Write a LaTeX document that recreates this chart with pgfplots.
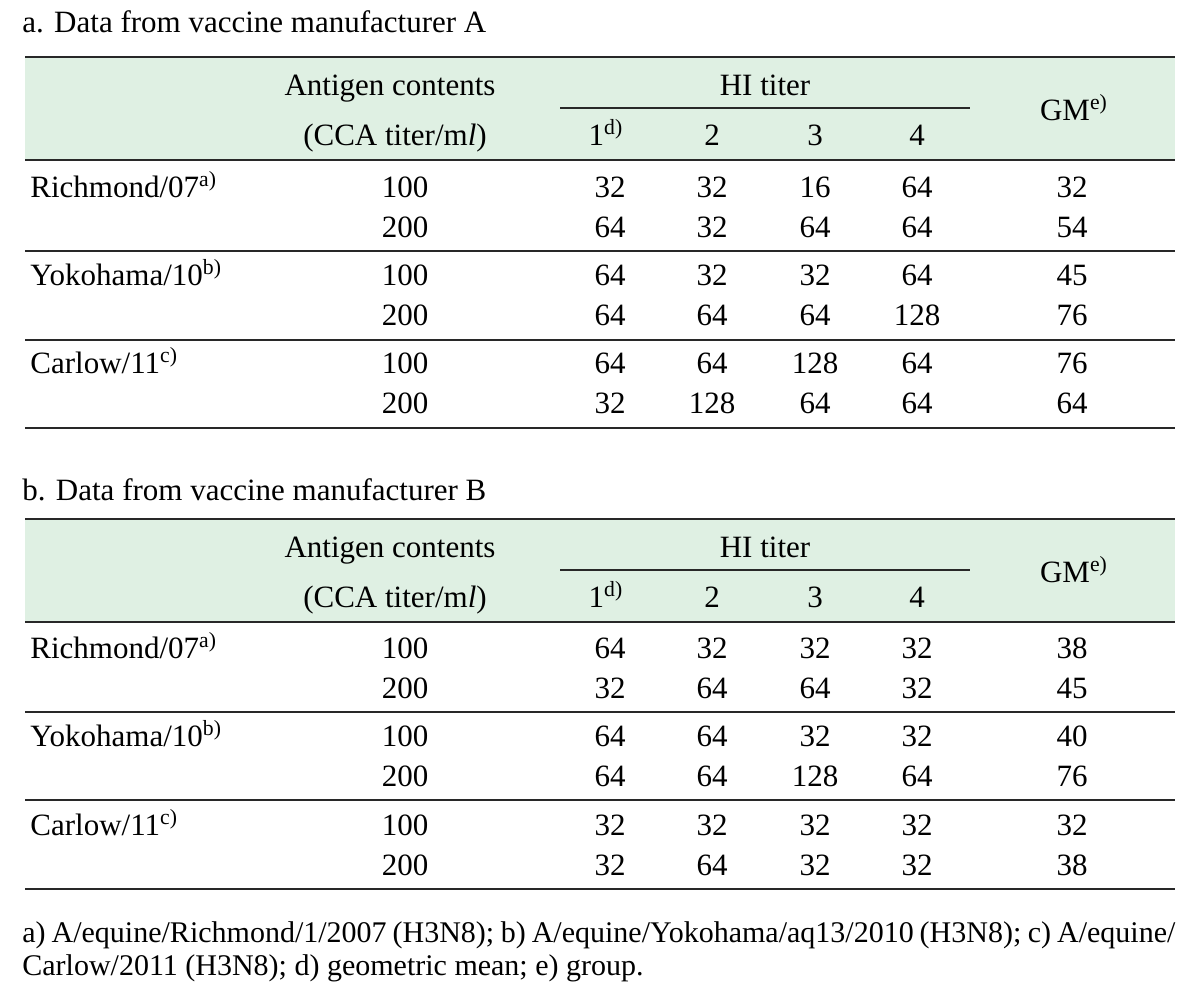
\documentclass[border=0pt]{standalone}
\usepackage{fontspec}
\setmainfont{Liberation Serif}
\usepackage{pgfplots}
\pgfplotsset{compat=1.18}
\usepackage{pgfplotstable}
\definecolor{hdr}{RGB}{223,240,227}
\definecolor{rulec}{RGB}{40,40,40}
\newcommand\fs{\fontsize{15.5}{18}\selectfont}

% baselines (px from top) and values
\pgfplotstableread{
y ant h1 h2 h3 h4 gm
197 100 32 32 16 64 32
237 200 64 32 64 64 54
285 100 64 32 32 64 45
325 200 64 64 64 128 76
373 100 64 64 128 64 76
413 200 32 128 64 64 64
}\tabA
\pgfplotstableread{
y ant h1 h2 h3 h4 gm
658 100 64 32 32 32 38
698 200 32 64 64 32 45
746 100 64 64 32 32 40
786 200 64 64 128 64 76
835 100 32 32 32 32 32
875 200 32 64 32 32 38
}\tabB

\newcommand\col[3]{\addplot[draw=none, mark=none, nodes near coords, point meta=explicit symbolic,
  nodes near coords style={anchor=base, font=\fs, inner sep=0pt, text=black}]
  table[x expr=#2, y=y, meta=#3] {#1};}

\begin{document}
\begin{tikzpicture}
\begin{axis}[
  scale only axis, width=600pt, height=496.5pt,
  xmin=0, xmax=1200, ymin=0, ymax=993, y dir=reverse,
  hide axis, clip=false,
]
\path (rel axis cs:0,0) (rel axis cs:1,1);

% ---------- Table A ----------
\addplot[fill=hdr, draw=none] coordinates {(25,58) (1175,58) (1175,160) (25,160)} -- cycle;
\addplot[rulec, line width=1.1pt] coordinates {(25,57) (1175,57)};
\addplot[rulec, line width=0.9pt] coordinates {(560,108) (970,108)};
\addplot[rulec, line width=1pt] coordinates {(25,160) (1175,160)};
\addplot[rulec, line width=0.8pt] coordinates {(25,251) (1175,251)};
\addplot[rulec, line width=0.8pt] coordinates {(25,340) (1175,340)};
\addplot[rulec, line width=1.1pt] coordinates {(25,428) (1175,428)};

\node[anchor=base west, inner sep=0pt, font=\fs] at (axis cs:22,32) {a. Data from vaccine manufacturer A};
\node[anchor=base, inner sep=0pt, font=\fs] at (axis cs:390,95) {Antigen contents};
\node[anchor=base, inner sep=0pt, font=\fs] at (axis cs:395,145) {(CCA titer/m\textit{l})};
\node[anchor=base, inner sep=0pt, font=\fs] at (axis cs:765,95) {HI titer};
\node[anchor=base, inner sep=0pt, font=\fs] at (axis cs:606,145) {1\textsuperscript{d)}};
\node[anchor=base, inner sep=0pt, font=\fs] at (axis cs:712,145) {2};
\node[anchor=base, inner sep=0pt, font=\fs] at (axis cs:815,145) {3};
\node[anchor=base, inner sep=0pt, font=\fs] at (axis cs:917,145) {4};
\node[anchor=base, inner sep=0pt, font=\fs] at (axis cs:1074,120) {GM\textsuperscript{e)}};
\node[anchor=base west, inner sep=0pt, font=\fs] at (axis cs:30,197) {Richmond/07\textsuperscript{a)}};
\node[anchor=base west, inner sep=0pt, font=\fs] at (axis cs:30,285) {Yokohama/10\textsuperscript{b)}};
\node[anchor=base west, inner sep=0pt, font=\fs] at (axis cs:30,373) {Carlow/11\textsuperscript{c)}};

\col{\tabA}{405}{ant}
\col{\tabA}{610}{h1}
\col{\tabA}{712}{h2}
\col{\tabA}{815}{h3}
\col{\tabA}{917}{h4}
\col{\tabA}{1072}{gm}

% ---------- Table B ----------
\addplot[fill=hdr, draw=none] coordinates {(25,520) (1175,520) (1175,622) (25,622)} -- cycle;
\addplot[rulec, line width=1.1pt] coordinates {(25,519) (1175,519)};
\addplot[rulec, line width=0.9pt] coordinates {(560,570) (970,570)};
\addplot[rulec, line width=1pt] coordinates {(25,622) (1175,622)};
\addplot[rulec, line width=0.8pt] coordinates {(25,712) (1175,712)};
\addplot[rulec, line width=0.8pt] coordinates {(25,800) (1175,800)};
\addplot[rulec, line width=1.1pt] coordinates {(25,889) (1175,889)};

\node[anchor=base west, inner sep=0pt, font=\fs] at (axis cs:22,500) {b. Data from vaccine manufacturer B};
\node[anchor=base, inner sep=0pt, font=\fs] at (axis cs:390,557) {Antigen contents};
\node[anchor=base, inner sep=0pt, font=\fs] at (axis cs:395,607) {(CCA titer/m\textit{l})};
\node[anchor=base, inner sep=0pt, font=\fs] at (axis cs:765,557) {HI titer};
\node[anchor=base, inner sep=0pt, font=\fs] at (axis cs:606,607) {1\textsuperscript{d)}};
\node[anchor=base, inner sep=0pt, font=\fs] at (axis cs:712,607) {2};
\node[anchor=base, inner sep=0pt, font=\fs] at (axis cs:815,607) {3};
\node[anchor=base, inner sep=0pt, font=\fs] at (axis cs:917,607) {4};
\node[anchor=base, inner sep=0pt, font=\fs] at (axis cs:1074,582) {GM\textsuperscript{e)}};
\node[anchor=base west, inner sep=0pt, font=\fs] at (axis cs:30,658) {Richmond/07\textsuperscript{a)}};
\node[anchor=base west, inner sep=0pt, font=\fs] at (axis cs:30,746) {Yokohama/10\textsuperscript{b)}};
\node[anchor=base west, inner sep=0pt, font=\fs] at (axis cs:30,835) {Carlow/11\textsuperscript{c)}};

\col{\tabB}{405}{ant}
\col{\tabB}{610}{h1}
\col{\tabB}{712}{h2}
\col{\tabB}{815}{h3}
\col{\tabB}{917}{h4}
\col{\tabB}{1072}{gm}

% ---------- Footnote ----------
\node[anchor=base west, inner sep=0pt, font=\fontsize{15}{16.5}\selectfont] at (axis cs:22,942)
  {\hbox to 576.5pt{a) A/equine/Richmond/1/2007 (H3N8); b) A/equine/Yokohama/aq13/2010 (H3N8); c) A/equine/}};
\node[anchor=base west, inner sep=0pt, font=\fontsize{15}{16.5}\selectfont] at (axis cs:22,975)
  {Carlow/2011 (H3N8); d) geometric mean; e) group.};
\end{axis}
\end{tikzpicture}
\end{document}
